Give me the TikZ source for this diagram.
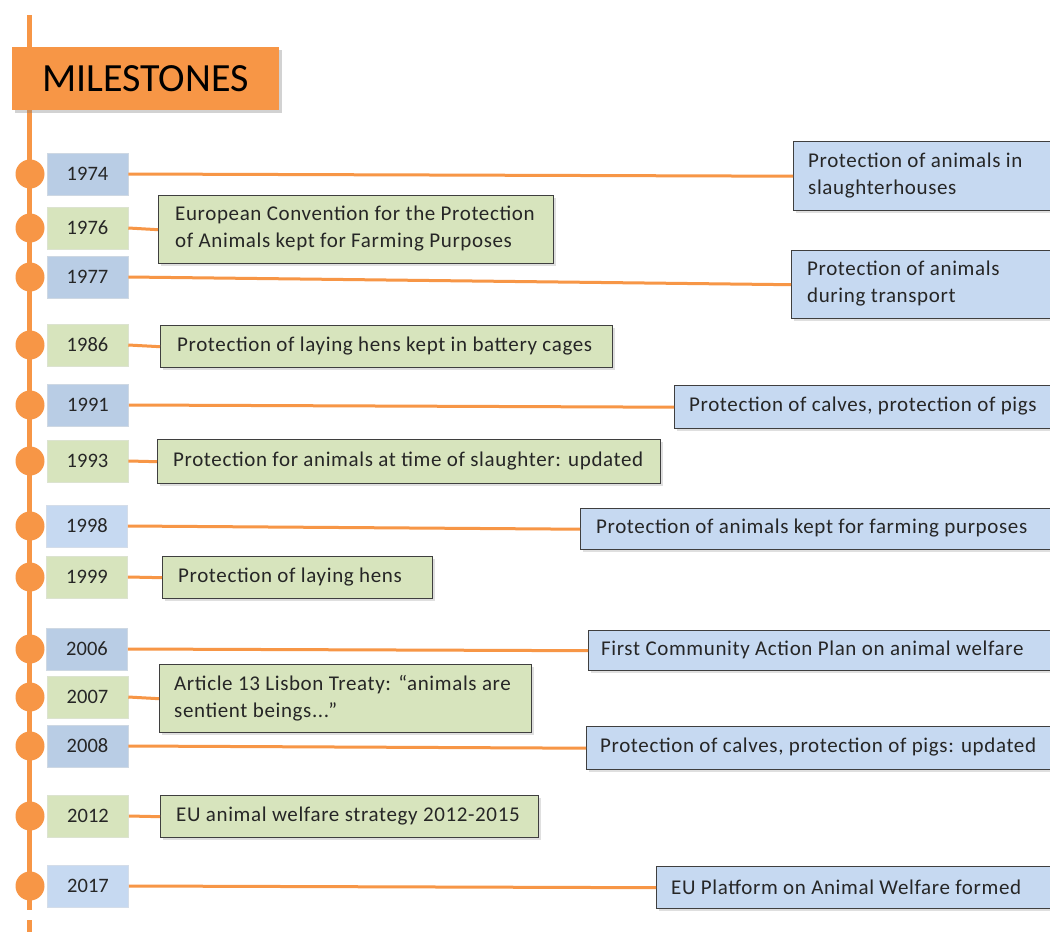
\documentclass[tikz,border=0pt]{standalone}
\usepackage{fontspec}
\setmainfont{Carlito}
\newfontfamily\itemfont[LetterSpace=3]{Carlito}
\usetikzlibrary{shadows}
\definecolor{orng}{HTML}{F79646}
\definecolor{dblue}{HTML}{B9CDE5}
\definecolor{lblue}{HTML}{C6D9F1}
\definecolor{lgreen}{HTML}{D7E4BD}
\definecolor{edgegray}{HTML}{3F3F3F}
\tikzset{
  yearbox/.style={draw=#1!80!gray!60, line width=0.6pt, fill=#1, minimum width=81pt, minimum height=42pt, inner sep=0pt, font=\fontsize{20.5}{24}\selectfont, text=black!85},
  itembox/.style={draw=edgegray, line width=1.4pt, fill=#1, anchor=north west, inner sep=0pt,
    drop shadow={opacity=0.25, shadow xshift=2pt, shadow yshift=-2pt}},
  itemtext/.style={anchor=west, font=\itemfont\fontsize{21}{27}\selectfont, align=left, inner sep=0pt, text=black!85},
  dot/.style={circle, fill=orng, minimum size=29pt, inner sep=0pt},
  link/.style={draw=orng, line width=3pt},
  spine/.style={draw=orng, line width=5pt}
}
\begin{document}
\begin{tikzpicture}[x=1pt,y=-1pt]
\useasboundingbox (0,0) rectangle (1050,932);
\clip (0,0) rectangle (1050,932);
\fill[white] (0,0) rectangle (1050,932);
% spine
\coordinate (top) at (29.5,15);
\coordinate (bot1) at (29.5,910);
\coordinate (bot2) at (29.5,920);
\coordinate (bot3) at (29.5,932);
\draw[spine] (top) -- (bot1);
\draw[spine] (bot2) -- (bot3);
% title
\node[fill=orng, minimum width=267pt, minimum height=63pt, inner sep=0pt,
  drop shadow={opacity=0.35, shadow xshift=3pt, shadow yshift=-3pt},
  font=\fontsize{40}{44}\selectfont] (title) at (145.5,78.5) {MILESTONES};

% dots
\foreach \nm/\yy in {y1974/174, y1976/228, y1977/277, y1986/345, y1991/405, y1993/461,
  y1998/526, y1999/577, y2006/649, y2007/697, y2008/746, y2012/816, y2017/886}{
  \node[dot] (d\nm) at (30,\yy) {};
}
% year boxes
\node[yearbox=dblue] (y1974) at (87.5,174) {1974};
\node[yearbox=lgreen] (y1976) at (87.5,228) {1976};
\node[yearbox=dblue] (y1977) at (87.5,277) {1977};
\node[yearbox=lgreen] (y1986) at (87.5,345) {1986};
\node[yearbox=dblue] (y1991) at (88,405) {1991};
\node[yearbox=lgreen] (y1993) at (87.5,461) {1993};
\node[yearbox=lblue] (y1998) at (87,526) {1998};
\node[yearbox=lgreen] (y1999) at (87,577) {1999};
\node[yearbox=dblue] (y2006) at (87,649) {2006};
\node[yearbox=lgreen] (y2007) at (87.5,697) {2007};
\node[yearbox=dblue] (y2008) at (87.5,746) {2008};
\node[yearbox=lgreen] (y2012) at (88,816) {2012};
\node[yearbox=lblue] (y2017) at (88,886) {2017};

% item boxes
\node[itembox=lblue, minimum width=270pt, minimum height=69pt] (i1974) at (793,141) {};
\node[itemtext] (t1974) at (808,175.5) {Protection of animals in\\slaughterhouses};
\node[itembox=lgreen, minimum width=395pt, minimum height=68pt] (i1976) at (158,195) {};
\node[itemtext] (t1976) at (175,229) {European Convention for the Protection\\of Animals kept for Farming Purposes};
\node[itembox=lblue, minimum width=272pt, minimum height=68pt] (i1977) at (791,250) {};
\node[itemtext] (t1977) at (807,284) {Protection of animals\\during transport};
\node[itembox=lgreen, minimum width=452pt, minimum height=42pt] (i1986) at (160,325) {};
\node[itemtext] (t1986) at (177,346) {Protection of laying hens kept in battery cages};
\node[itembox=lblue, minimum width=390pt, minimum height=43pt] (i1991) at (674,385) {};
\node[itemtext] (t1991) at (689,406.5) {Protection of calves, protection of pigs};
\node[itembox=lgreen, minimum width=503pt, minimum height=44pt] (i1993) at (157,439) {};
\node[itemtext] (t1993) at (173,461) {Protection for animals at time of slaughter: updated};
\node[itembox=lblue, minimum width=484pt, minimum height=41pt] (i1998) at (580,508) {};
\node[itemtext] (t1998) at (596,528.5) {Protection of animals kept for farming purposes};
\node[itembox=lgreen, minimum width=270pt, minimum height=42pt] (i1999) at (162,556) {};
\node[itemtext] (t1999) at (178,577) {Protection of laying hens};
\node[itembox=lblue, minimum width=476pt, minimum height=40pt] (i2006) at (588,630) {};
\node[itemtext] (t2006) at (601,650) {First Community Action Plan on animal welfare};
\node[itembox=lgreen, minimum width=372pt, minimum height=68pt] (i2007) at (159,664) {};
\node[itemtext] (t2007) at (174,698) {Article 13 Lisbon Treaty: “animals are\\sentient beings...”};
\node[itembox=lblue, minimum width=478pt, minimum height=43pt] (i2008) at (586,726) {};
\node[itemtext] (t2008) at (600,747.5) {Protection of calves, protection of pigs: updated};
\node[itembox=lgreen, minimum width=378pt, minimum height=42pt] (i2012) at (160,795) {};
\node[itemtext] (t2012) at (176,816) {EU animal welfare strategy 2012-2015};
\node[itembox=lblue, minimum width=408pt, minimum height=42pt] (i2017) at (656,866) {};
\node[itemtext] (t2017) at (671,887) {EU Platform on Animal Welfare formed};

% connectors
\foreach \yr in {1974,1976,1977,1986,1991,1993,1998,1999,2006,2007,2008,2012,2017}{
  \draw[link] (y\yr.east) -- (i\yr.west);
}
\end{tikzpicture}
\end{document}
